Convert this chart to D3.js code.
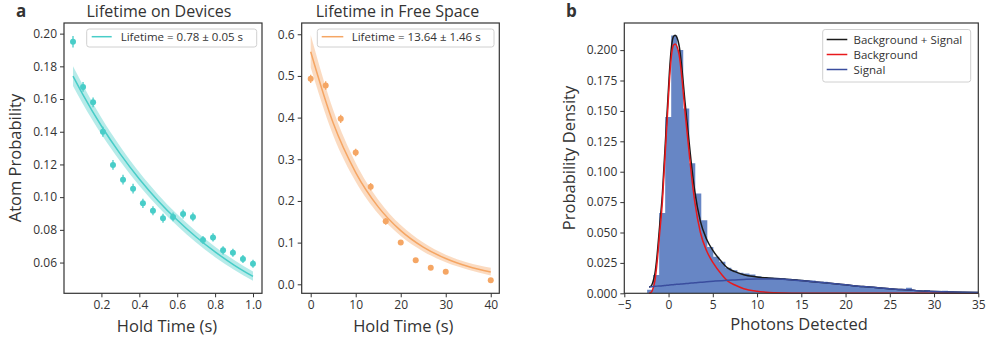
<!DOCTYPE html>
<html><head><meta charset="utf-8">
<script src="https://cdn.jsdelivr.net/npm/d3@7"></script>
<style>
body{margin:0;background:#fff;}
text{font-family:"Open Sans",sans-serif;fill:#333;}
</style></head>
<body><svg id="chart" width="986" height="339"></svg>
<script>
// ---------- Panel a (left): Lifetime on Devices ----------
const devTime = [0.05,0.103,0.156,0.208,0.261,0.314,0.367,0.419,0.472,0.525,0.578,0.631,0.683,0.736,0.789,0.842,0.894,0.947,1.0];
const devProb = [0.195,0.1674,0.158,0.140,0.1197,0.1107,0.1052,0.0962,0.0917,0.0871,0.0879,0.0897,0.0879,0.0738,0.0754,0.0675,0.066,0.0622,0.0593];
const devErr  = [0.0035,0.003,0.003,0.003,0.003,0.003,0.003,0.0028,0.0028,0.0027,0.0027,0.0027,0.0027,0.0025,0.0025,0.0025,0.0025,0.0024,0.0024];
const devFitT     = [0.05,0.1,0.2,0.3,0.4,0.5,0.6,0.7,0.8,0.9,1.0];
const devFitMid   = [0.1740,0.1632,0.1435,0.1263,0.1111,0.0977,0.0860,0.0756,0.0665,0.0585,0.0515];
const devFitUpper = [0.1800,0.1690,0.1485,0.1308,0.1152,0.1015,0.0895,0.0790,0.0697,0.0615,0.0545];
const devFitLower = [0.1680,0.1575,0.1385,0.1218,0.1070,0.0940,0.0825,0.0722,0.0633,0.0556,0.0488];
const devXTicks = [0.2,0.4,0.6,0.8,1.0];
const devYTicks = [0.06,0.08,0.10,0.12,0.14,0.16,0.18,0.20];

// ---------- Panel a (right): Lifetime in Free Space ----------
const freeTime = [0,3.33,6.67,10,13.33,16.67,20,23.33,26.67,30,40];
const freeProb = [0.493,0.477,0.397,0.316,0.234,0.151,0.100,0.058,0.040,0.030,0.010];
const freeErr  = [0.010,0.010,0.010,0.009,0.009,0.008,0.006,0.005,0.004,0.004,0.003];
const freeFitT     = [0,5,10,15,20,25,30,35,40];
const freeFitMid   = [0.558,0.3868,0.2681,0.1858,0.1288,0.0893,0.0619,0.0429,0.0297];
const freeFitUpper = [0.598,0.418,0.291,0.203,0.142,0.100,0.071,0.052,0.040];
const freeFitLower = [0.520,0.357,0.246,0.169,0.116,0.079,0.053,0.035,0.021];
const freeXTicks = [0,10,20,30,40];
const freeYTicks = [0.0,0.1,0.2,0.3,0.4,0.5,0.6];

// ---------- Panel b: photon histogram ----------
const binStart = -2.42, binWidth = 0.68;
const histDensity = [0.003,0.015,0.066,0.145,0.212,0.200,0.152,0.107,0.082,0.060,0.038,0.030,0.026,0.021,0.019,0.017,0.0163,0.0155,0.014,0.0135,0.013,0.0128,0.0125,0.012,0.0118,0.0112,0.0108,0.0105,0.0092,0.0095,0.0078,0.0082,0.0072,0.0068,0.0065,0.006,0.0055,0.005,0.0046,0.0042,0.0038,0.0034,0.0032,0.0045,0.0026,0.0022,0.0028,0.0018,0.0016,0.0022,0.0012,0.0011,0.0009,0.0008,0.0007];
const curveX  = [-2.2,-2.0,-1.8,-1.55,-1.3,-1.0,-0.7,-0.5,-0.3,-0.1,0.1,0.35,0.55,0.75,0.95,1.2,1.5,1.85,2.2,2.55,2.97,3.6,4.3,5.04,6.0,6.7,7.5,8.5,10,11,12,14,16,18,20,22,24,26,28,30,32,35];
const bgCurve = [0,0.0005,0.003,0.010,0.025,0.050,0.075,0.100,0.125,0.150,0.175,0.197,0.204,0.205,0.203,0.196,0.178,0.150,0.125,0.100,0.075,0.050,0.035,0.025,0.0155,0.010,0.0068,0.0038,0.0017,0.0009,0.0005,0.0001,0,0,0,0,0,0,0,0,0,0];
const sigCurve = [0.0052,0.0053,0.0055,0.0057,0.0059,0.0060,0.0062,0.0064,0.0065,0.0066,0.0068,0.0070,0.0071,0.0073,0.0074,0.0075,0.0077,0.0079,0.0081,0.0084,0.0086,0.0091,0.0095,0.0099,0.0104,0.0107,0.0110,0.0114,0.0118,0.0118,0.0117,0.0110,0.0098,0.0085,0.0070,0.0055,0.0043,0.0032,0.0022,0.0015,0.0010,0.0006];
const bXTicks = [-5,0,5,10,15,20,25,30,35];
const bYTicks = [0,0.025,0.05,0.075,0.1,0.125,0.15,0.175,0.2];
const bLegend = ["Background + Signal","Background","Signal"];

const teal = "#48cdc8", orange = "#f5a664";
const svg = d3.select("#chart");
const axisColor = "#333";

function styleAxis(g){
  g.selectAll("path").remove();
  g.selectAll(".tick line").attr("stroke",axisColor).attr("stroke-width",1);
  g.selectAll(".tick text").attr("fill","#333").style("font-size","12px").style("font-family","'Open Sans',sans-serif");
}
function frame(x0,x1,y0,y1){
  svg.append("rect").attr("x",x0).attr("y",y0).attr("width",x1-x0).attr("height",y1-y0)
    .attr("fill","none").attr("stroke",axisColor).attr("stroke-width",1.2);
}
function drawLifetime(o){
  const x = d3.scaleLinear().domain(o.xd).range([o.x0,o.x1]);
  const y = d3.scaleLinear().domain(o.yd).range([o.y1,o.y0]);
  const g = svg.append("g");
  const band = o.fitT.map((t,i)=>({t,lo:o.lo[i],hi:o.hi[i],m:o.mid[i]}));
  g.append("path").datum(band).attr("fill",o.color).attr("fill-opacity",0.4)
    .attr("d",d3.area().x(d=>x(d.t)).y0(d=>y(d.lo)).y1(d=>y(d.hi)).curve(d3.curveMonotoneX));
  g.append("path").datum(band).attr("fill","none").attr("stroke",o.color).attr("stroke-width",1.5)
    .attr("d",d3.line().x(d=>x(d.t)).y(d=>y(d.m)).curve(d3.curveMonotoneX));
  const pts = o.t.map((t,i)=>({t,p:o.p[i],e:o.e[i]}));
  g.selectAll(".eb").data(pts).join("line").attr("x1",d=>x(d.t)).attr("x2",d=>x(d.t))
    .attr("y1",d=>y(d.p-d.e)).attr("y2",d=>y(d.p+d.e)).attr("stroke",o.color).attr("stroke-width",1.3);
  g.selectAll(".pt").data(pts).join("circle").attr("cx",d=>x(d.t)).attr("cy",d=>y(d.p)).attr("r",3).attr("fill",o.color);
  frame(o.x0,o.x1,o.y0,o.y1);
  const gx = svg.append("g").attr("transform",`translate(0,${o.y1})`)
    .call(d3.axisBottom(x).tickValues(o.xt).tickFormat(d3.format(o.xf)).tickSizeOuter(0).tickSize(4).tickPadding(3));
  styleAxis(gx);
  const gy = svg.append("g").attr("transform",`translate(${o.x0},0)`)
    .call(d3.axisLeft(y).tickValues(o.yt).tickFormat(d3.format(o.yf)).tickSizeOuter(0).tickSize(4).tickPadding(3));
  styleAxis(gy);
  svg.append("text").attr("x",o.titleX).attr("y",16.5).attr("text-anchor","middle").style("font-size","16px").text(o.title);
  svg.append("text").attr("x",o.xlabX).attr("y",331.5).attr("text-anchor","middle").style("font-size","16.5px").text("Hold Time (s)");
  // legend
  const lg = svg.append("g");
  lg.append("rect").attr("x",o.lg[0]).attr("y",29).attr("width",o.lg[1]-o.lg[0]).attr("height",18).attr("rx",2.5)
    .attr("fill","#fff").attr("fill-opacity",0.8).attr("stroke","#d0d0d0").attr("stroke-width",1);
  lg.append("line").attr("x1",o.lg[2]).attr("x2",o.lg[3]).attr("y1",36.7).attr("y2",36.7).attr("stroke",o.color).attr("stroke-width",1.5);
  lg.append("text").attr("x",o.lg[4]).attr("y",41).style("font-size","11.5px").text(o.legend);
  return {x,y};
}
drawLifetime({xd:[0.0025,1.0475],yd:[0.0412,0.2065],x0:64,x1:262,y0:23,y1:293.3,
  fitT:devFitT,mid:devFitMid,hi:devFitUpper,lo:devFitLower,t:devTime,p:devProb,e:devErr,color:teal,
  xt:devXTicks,yt:devYTicks,xf:".1f",yf:".2f",title:"Lifetime on Devices",titleX:159,xlabX:167,
  lg:[86.7,256.7,91.7,111.7,120.7],legend:"Lifetime = 0.78 ± 0.05 s"});
drawLifetime({xd:[-2,41.9],yd:[-0.0216,0.627],x0:301.7,x1:499.3,y0:23,y1:293.3,
  fitT:freeFitT,mid:freeFitMid,hi:freeFitUpper,lo:freeFitLower,t:freeTime,p:freeProb,e:freeErr,color:orange,
  xt:freeXTicks,yt:freeYTicks,xf:"d",yf:".1f",title:"Lifetime in Free Space",titleX:397.5,xlabX:403.3,
  lg:[317.3,494,321.7,343.3,351.7],legend:"Lifetime = 13.64 ± 1.46 s"});

svg.append("text").attr("x",15).attr("y",158).attr("text-anchor","middle")
  .attr("transform","rotate(-90,15,158) translate(0,6)").style("font-size","16.5px").text("Atom Probability");
svg.append("text").attr("x",16).attr("y",17).style("font-size","17px").style("font-weight","bold").attr("fill","#111").text("a");

// ---------- Panel b ----------
const bx0=624.3,bx1=978.3,by0=23,by1=293.3;
const xb = d3.scaleLinear().domain([-5,35]).range([bx0,bx1]);
const yb = d3.scaleLinear().domain([0,0.2223]).range([by1,by0]);
// histogram as one stepped area (edges + densities), avoids seams between bars
const histSteps = histDensity.map((v,i)=>({e:binStart+i*binWidth,v}));
histSteps.push({e:binStart+histDensity.length*binWidth,v:histDensity[histDensity.length-1]});
svg.append("defs").append("clipPath").attr("id","bclip")
  .append("rect").attr("x",bx0).attr("y",by0).attr("width",bx1-bx0).attr("height",by1-by0);
svg.append("path").datum(histSteps).attr("clip-path","url(#bclip)").attr("fill","#6786c5")
  .attr("d",d3.area().x(d=>xb(d.e)).y0(yb(0)).y1(d=>yb(d.v)).curve(d3.curveStepAfter));
const cv = curveX.map((xv,i)=>({x:xv,bg:bgCurve[i],sig:sigCurve[i],tot:bgCurve[i]+sigCurve[i]}));
const lineB = key=>d3.line().x(d=>xb(d.x)).y(d=>yb(d[key])).curve(d3.curveMonotoneX);
const bColors = {tot:"#1a1a1a",bg:"#e8191c",sig:"#3a4d9e"};
["tot","bg","sig"].forEach(k=>{
  svg.append("path").datum(cv).attr("fill","none").attr("stroke",bColors[k]).attr("stroke-width",1.5).attr("d",lineB(k));
});
frame(bx0,bx1,by0,by1);
const gbx = svg.append("g").attr("transform",`translate(0,${by1})`)
  .call(d3.axisBottom(xb).tickValues(bXTicks).tickFormat(d=>d<0?"\u2212"+Math.abs(d):d).tickSizeOuter(0).tickSize(4).tickPadding(3));
styleAxis(gbx);
const gby = svg.append("g").attr("transform",`translate(${bx0},0)`)
  .call(d3.axisLeft(yb).tickValues(bYTicks).tickFormat(d3.format(".3f")).tickSizeOuter(0).tickSize(4).tickPadding(3));
styleAxis(gby);
svg.append("text").attr("x",799).attr("y",330).attr("text-anchor","middle").style("font-size","16.5px").text("Photons Detected");
svg.append("text").attr("x",569).attr("y",158).attr("text-anchor","middle")
  .attr("transform","rotate(-90,569,158) translate(0,6)").style("font-size","16.5px").text("Probability Density");
svg.append("text").attr("x",566).attr("y",17).style("font-size","17px").style("font-weight","bold").attr("fill","#111").text("b");
const lb = svg.append("g");
lb.append("rect").attr("x",822.7).attr("y",29.5).attr("width",148).attr("height",52.5).attr("rx",2.5)
  .attr("fill","#fff").attr("fill-opacity",0.8).attr("stroke","#d0d0d0");
const lbY=[39.5,54.5,69.5], lbC=[bColors.tot,bColors.bg,bColors.sig];
bLegend.forEach((s,i)=>{
  lb.append("line").attr("x1",826.7).attr("x2",847.3).attr("y1",lbY[i]).attr("y2",lbY[i]).attr("stroke",lbC[i]).attr("stroke-width",1.5);
  lb.append("text").attr("x",853.5).attr("y",lbY[i]+4).style("font-size","11.5px").text(s);
});
</script></body></html>
